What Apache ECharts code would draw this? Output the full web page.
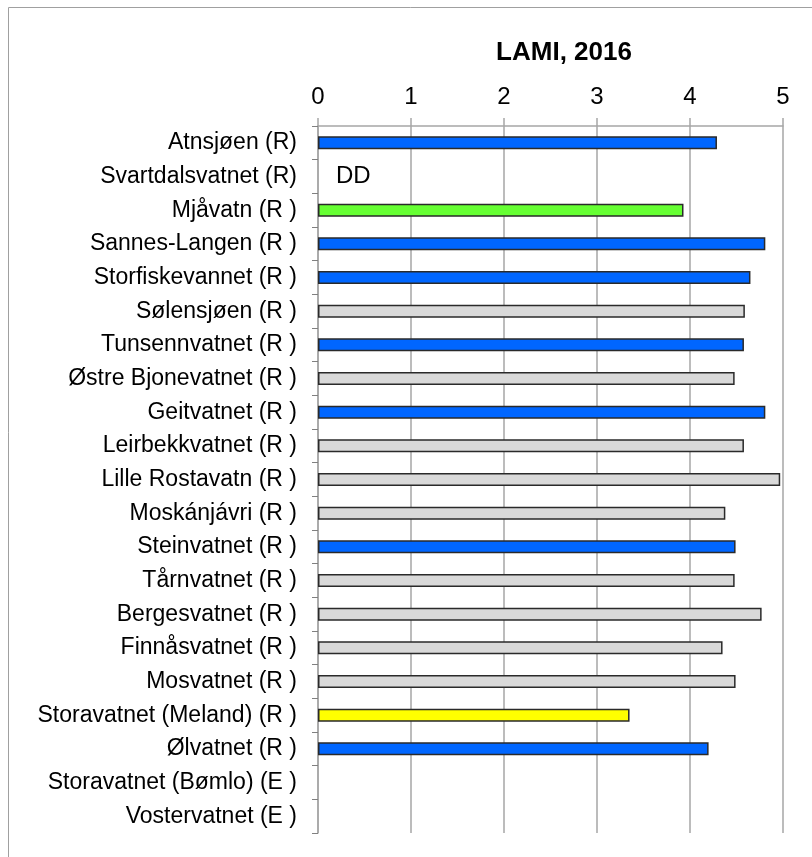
<!DOCTYPE html>
<html>
<head>
<meta charset="utf-8">
<script src="https://cdn.jsdelivr.net/npm/echarts@6/dist/echarts.min.js"></script>
<style>
  html, body { margin: 0; padding: 0; background: #fff; }
  #chart { width: 812px; height: 857px; }
</style>
</head>
<body>
<div id="chart"></div>
<script>
// categories, top to bottom
const lakes = [
  'Atnsjøen (R)', 'Svartdalsvatnet (R)', 'Mjåvatn (R )', 'Sannes-Langen (R )',
  'Storfiskevannet (R )', 'Sølensjøen (R )', 'Tunsennvatnet (R )', 'Østre Bjonevatnet (R )',
  'Geitvatnet (R )', 'Leirbekkvatnet (R )', 'Lille Rostavatn (R )', 'Moskánjávri (R )',
  'Steinvatnet (R )', 'Tårnvatnet (R )', 'Bergesvatnet (R )', 'Finnåsvatnet (R )',
  'Mosvatnet (R )', 'Storavatnet (Meland) (R )', 'Ølvatnet (R )', 'Storavatnet (Bømlo) (E )',
  'Vostervatnet (E )'
]
// LAMI index values (null = no data)
const lami = [
  4.29, null, 3.93, 4.81, 4.65, 4.59, 4.58, 4.48, 4.81, 4.58, 4.97, 4.38,
  4.49, 4.48, 4.77, 4.35, 4.49, 3.35, 4.20, null, null
]
// status class for each lake
const status = [
  'blue', 'DD', 'green', 'blue', 'blue', 'grey', 'blue', 'grey', 'blue', 'grey', 'grey', 'grey',
  'blue', 'grey', 'grey', 'grey', 'grey', 'yellow', 'blue', '', ''
]
const xTicks = [0, 1, 2, 3, 4, 5]

const colorMap = {
  blue: '#0066FF',
  green: '#66FF33',
  grey: '#D9D9D9',
  yellow: '#FFFF00'
}

const chart = echarts.init(document.getElementById('chart'))
const font = '"Liberation Sans", Arial, sans-serif'

const barData = lami.map((v, i) => {
  if (status[i] === 'DD') {
    return {
      value: 0,
      itemStyle: { color: 'transparent', borderWidth: 0 },
      label: {
        show: true, position: 'right', distance: 18, formatter: 'DD',
        fontSize: 24, color: '#000', fontFamily: font
      }
    }
  }
  return {
    value: v,
    itemStyle: { color: colorMap[status[i]] || 'transparent' }
  }
})

const option = {
  animation: false,
  title: {
    text: 'LAMI, 2016',
    left: 559,
    textAlign: 'center',
    top: 35,
    textStyle: { fontFamily: font, fontSize: 26, fontWeight: 'bold', color: '#000' }
  },
  graphic: [{
    type: 'rect',
    shape: { x: 8.5, y: 7.5, width: 830, height: 880 },
    style: { fill: 'none', stroke: '#A0A0A0', lineWidth: 1 },
    silent: true
  }],
  grid: { left: 318, right: 29, top: 126, bottom: 24 },
  xAxis: {
    type: 'value',
    position: 'top',
    min: xTicks[0],
    max: xTicks[xTicks.length - 1],
    interval: 1,
    axisLine: { show: true, lineStyle: { color: '#A6A6A6', width: 1.5 } },
    axisTick: { show: true, length: 8, lineStyle: { color: '#A6A6A6', width: 1.5 } },
    splitLine: { show: true, lineStyle: { color: '#A6A6A6', width: 1.5 } },
    axisLabel: { fontFamily: font, fontSize: 24, color: '#000', margin: 17 }
  },
  yAxis: {
    type: 'category',
    inverse: true,
    data: lakes,
    axisLine: { show: true, lineStyle: { color: '#A6A6A6', width: 1.5 } },
    axisTick: { show: true, length: 6, lineStyle: { color: '#808080', width: 1 } },
    axisLabel: { fontFamily: font, fontSize: 23, color: '#000', margin: 21 }
  },
  series: [{
    type: 'bar',
    data: barData,
    barWidth: 13,
    itemStyle: { borderColor: '#2a2a2a', borderWidth: 1.5 }
  }]
}

chart.setOption(option)
</script>
</body>
</html>
